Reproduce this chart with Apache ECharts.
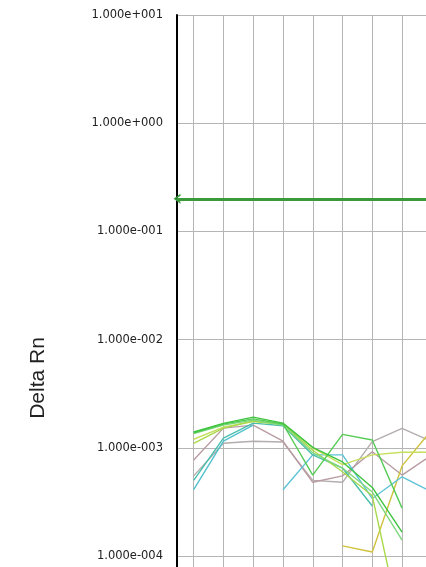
<!DOCTYPE html>
<html>
<head>
<meta charset="utf-8">
<script src="https://cdn.jsdelivr.net/npm/echarts@6/dist/echarts.min.js"></script>
<style>
html,body{margin:0;padding:0;background:#fff;}
#chart{width:426px;height:567px;}
</style>
</head>
<body>
<div id="chart"></div>
<script>
// Cycle numbers (x positions of gridlines / data points)
const cycles = [1, 2, 3, 4, 5, 6, 7, 8, 9];

// Delta Rn values per well (null = not plotted)
const wellGreen1   = [1.40e-3, 1.68e-3, 1.92e-3, 1.69e-3, 1.01e-3, 7.4e-4, 4.3e-4, 1.66e-4, null];
const wellGreen2   = [1.37e-3, 1.66e-3, 1.85e-3, 1.66e-3, 5.6e-4, 1.33e-3, 1.18e-3, 2.77e-4, null];
const wellLime     = [1.10e-3, 1.52e-3, 1.77e-3, 1.64e-3, 9.5e-4, 6.0e-4, 3.6e-4, 2.0e-5, null];
const wellLtGreen  = [1.35e-3, 1.62e-3, 1.80e-3, 1.62e-3, 9.0e-4, 6.5e-4, 3.9e-4, 1.40e-4, null];
const wellYelGreen = [1.20e-3, 1.55e-3, 1.75e-3, 1.65e-3, 1.00e-3, 7.0e-4, 8.6e-4, 9.1e-4, 9.1e-4];
const wellTeal1    = [5.0e-4, 1.23e-3, 1.69e-3, 1.60e-3, 8.6e-4, 6.5e-4, 2.9e-4, null, null];
const wellTeal2    = [4.1e-4, 1.15e-3, 1.62e-3, null, null, null, null, null, null];
const wellCyan     = [null, null, null, 4.1e-4, 8.6e-4, 8.6e-4, 3.4e-4, 5.4e-4, 3.9e-4];
const wellMauve    = [7.7e-4, 1.52e-3, 1.62e-3, 1.15e-3, 4.8e-4, 5.5e-4, 9.2e-4, 5.6e-4, 8.6e-4];
const wellGray     = [5.5e-4, 1.10e-3, 1.15e-3, 1.13e-3, 5.0e-4, 4.8e-4, 1.14e-3, 1.51e-3, 1.14e-3];
const wellOlive    = [null, null, null, null, null, 1.24e-4, 1.09e-4, 6.8e-4, 1.47e-3];

// Threshold
const threshold = 0.2;

// Y tick labels
const yTickExponents = [-4, -3, -2, -1, 0, 1];
const yTickLabels = ['1.000e-004', '1.000e-003', '1.000e-002', '1.000e-001', '1.000e+000', '1.000e+001'];

const wells = [
  {name: 'Gray', data: wellGray, color: '#b3adad'},
  {name: 'Mauve', data: wellMauve, color: '#b99ca2'},
  {name: 'Olive', data: wellOlive, color: '#cfc23e'},
  {name: 'Cyan', data: wellCyan, color: '#5cc3d6'},
  {name: 'Teal2', data: wellTeal2, color: '#52c2cc'},
  {name: 'Teal1', data: wellTeal1, color: '#4bbfae'},
  {name: 'YelGreen', data: wellYelGreen, color: '#c6df5c'},
  {name: 'Lime', data: wellLime, color: '#a9d94a'},
  {name: 'LtGreen', data: wellLtGreen, color: '#7fd87f'},
  {name: 'Green2', data: wellGreen2, color: '#55cc55'},
  {name: 'Green1', data: wellGreen1, color: '#3fc43f'}
];

const chart = echarts.init(document.getElementById('chart'), null, {renderer: 'canvas'});

const series = wells.map(function (w) {
  return {
    name: w.name,
    type: 'line',
    showSymbol: false,
    symbol: 'none',
    connectNulls: false,
    silent: true,
    lineStyle: {color: w.color, width: 1.4},
    data: cycles.map(function (c, i) { return [c, w.data[i] == null ? '-' : w.data[i]]; })
  };
});

series.push({
  name: 'Threshold',
  type: 'line',
  data: [],
  silent: true,
  markLine: {
    silent: true,
    symbol: ['path://M0,10 L5,0 L10,10 L8,10 L5,4 L2,10 Z', 'none'],
    symbolSize: [10, 7],
    label: {show: false},
    lineStyle: {color: '#3a9a3a', width: 3, type: 'solid'},
    emphasis: {disabled: true},
    data: [{yAxis: threshold}]
  }
});

// axis extents chosen so the plot area runs off the bottom and right edges
const gridLeft = 177, gridTop = 15;
const pxPerCycle = 29.77;
const pxPerDecade = 108.2;
const xMin = 0.44;
const xMax = xMin + (426 - gridLeft) / pxPerCycle;
const yMaxExp = 1;
const yMinExp = yMaxExp - (567 - gridTop) / pxPerDecade;

chart.setOption({
  animation: false,
  backgroundColor: '#ffffff',
  grid: {
    left: gridLeft,
    top: gridTop,
    right: 0,
    bottom: 0,
    containLabel: false
  },
  xAxis: {
    type: 'value',
    min: xMin,
    max: xMax,
    axisLine: {show: false},
    axisTick: {show: false, customValues: cycles},
    axisLabel: {show: false},
    splitLine: {show: true, lineStyle: {color: '#b5b5b5', width: 1}}
  },
  yAxis: {
    type: 'log',
    logBase: 10,
    min: Math.pow(10, yMinExp),
    max: Math.pow(10, yMaxExp),
    axisLine: {show: true, onZero: false, lineStyle: {color: '#000000', width: 2}},
    axisTick: {show: false},
    splitLine: {show: true, lineStyle: {color: '#b5b5b5', width: 1}},
    axisLabel: {
      margin: 14,
      fontFamily: 'DejaVu Sans',
      fontSize: 11.5,
      color: '#222222',
      formatter: function (v) {
        const l = Math.log10(v);
        const e = Math.round(l);
        if (Math.abs(l - e) > 1e-6) return '';
        const idx = yTickExponents.indexOf(e);
        return idx >= 0 ? yTickLabels[idx] : '';
      }
    }
  },
  graphic: [{
    type: 'text',
    x: 38,
    y: 378,
    rotation: Math.PI / 2,
    style: {
      text: 'Delta Rn',
      fontFamily: 'Liberation Sans',
      fontSize: 21,
      fill: '#222222',
      align: 'center',
      verticalAlign: 'middle'
    }
  }],
  series: series
});
</script>
</body>
</html>
